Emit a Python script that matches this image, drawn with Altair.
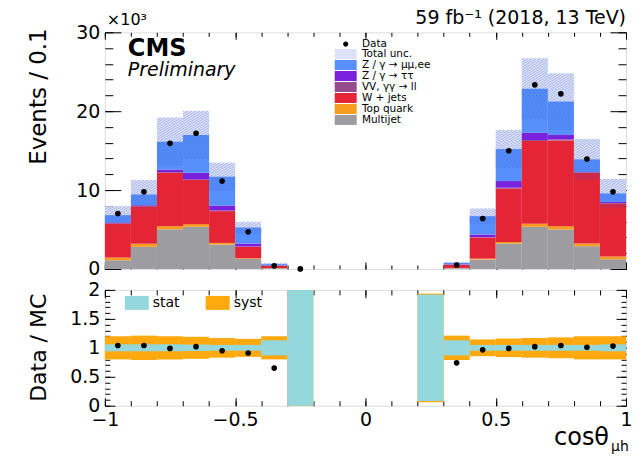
import math
import altair as alt
import pandas as pd

FONT = "DejaVu Sans"

# ---------------- data (events in units of 10^3) ----------------
bin_lo = [-1.0, -0.9, -0.8, -0.7, -0.6, -0.5, -0.4, -0.3, -0.2, -0.1,
          0.0, 0.1, 0.2, 0.3, 0.4, 0.5, 0.6, 0.7, 0.8, 0.9]
bin_width = 0.1

multijet  = [1.10, 2.80, 5.04, 5.34, 3.09, 1.27, 0.08, 0, 0, 0, 0, 0, 0, 0.10, 1.19, 3.22, 5.34, 5.00, 2.88, 1.23]
top_quark = [0.34, 0.38, 0.38, 0.34, 0.21, 0.09, 0.02, 0, 0, 0, 0, 0, 0, 0.03, 0.12, 0.21, 0.38, 0.42, 0.34, 0.34]
w_jets    = [4.32, 4.78, 6.78, 5.59, 4.03, 1.44, 0.30, 0, 0, 0, 0, 0, 0, 0.38, 2.67, 6.77, 10.50, 10.88, 8.98, 6.73]
vv_ll     = [0.04, 0.05, 0.08, 0.10, 0.08, 0.05, 0.02, 0, 0, 0, 0, 0, 0, 0.02, 0.05, 0.10, 0.12, 0.12, 0.05, 0.05]
z_tautau  = [0.10, 0.08, 0.34, 0.83, 0.63, 0.37, 0.04, 0, 0, 0, 0, 0, 0, 0.05, 0.33, 0.84, 0.94, 0.57, 0.03, 0.16]
z_mumuee  = [0.92, 1.35, 3.52, 4.79, 3.65, 2.03, 0.14, 0, 0, 0, 0, 0, 0, 0.18, 2.33, 4.06, 5.55, 4.23, 1.61, 1.06]
total_unc = [1.14, 1.83, 3.05, 3.05, 1.78, 0.72, 0.15, 0, 0, 0, 0, 0, 0, 0.12, 0.97, 2.40, 3.87, 3.58, 2.59, 1.83]
data_obs  = [7.03, 9.78, 15.92, 17.20, 11.14, 4.70, 0.39, 0.0, None, None, None, None, None,
             0.50, 6.39, 14.99, 23.34, 22.20, 13.94, 9.78]

ratio     = [1.04, 1.04, 0.99, 1.02, 0.95, 0.91, 0.65, None, None, None, None, None, None,
             0.74, 0.965, 0.99, 1.02, 1.04, 1.01, 1.03]
stat_unc  = [0.06, 0.06, 0.06, 0.055, 0.05, 0.05, 0.13, 1.0, None, None, None, None, 0.92,
             0.13, 0.05, 0.05, 0.05, 0.05, 0.05, 0.06]
syst_unc  = [0.20, 0.21, 0.20, 0.19, 0.17, 0.155, 0.20, 1.0, None, None, None, None, 0.94,
             0.21, 0.145, 0.16, 0.17, 0.18, 0.20, 0.20]

proc_names = ["Multijet", "Top quark", "W + jets", "VV, γγ → ll", "Z / γ → ττ", "Z / γ → μμ,ee"]
proc_values = [multijet, top_quark, w_jets, vv_ll, z_tautau, z_mumuee]

legend_order = ["Total unc.", "Z / γ → μμ,ee", "Z / γ → ττ", "VV, γγ → ll",
                "W + jets", "Top quark", "Multijet"]
legend_colors = ["#dde2f8", "#5790fc", "#7a21dd", "#964a8b", "#e42536", "#f89c20", "#9c9ca1"]
hatch_color = "#3050d0"

x_major = [-1, -0.5, 0, 0.5, 1]
x_minor = [round(-1 + 0.1 * i, 1) for i in range(21)]
top_y_major = [0, 10, 20, 30]
top_y_minor = list(range(0, 31, 2))
bot_y_major = [0, 0.5, 1, 1.5, 2]
bot_y_minor = [round(0.1 * i, 1) for i in range(21)]

W, H_TOP, H_BOT = 522, 237, 116
X_DOM, Y_TOP_DOM, Y_BOT_DOM = [-1, 1], [0, 30], [0, 2]

# ---------------- tables ----------------
stack_rows, band_rows, pt_rows, syst_rows, stat_rows, rpt_rows = [], [], [], [], [], []
for i, lo in enumerate(bin_lo):
    hi = round(lo + bin_width, 2)
    base = 0.0
    for name, vals in zip(proc_names, proc_values):
        v = vals[i]
        if v > 0:
            stack_rows.append(dict(lo=lo, hi=hi, y0=base, y1=base + v, proc=name))
        base += v
    if total_unc[i] > 0:
        band_rows.append(dict(lo=lo, hi=hi, y0=base - total_unc[i], y1=base + total_unc[i], proc="Total unc."))
    if data_obs[i] is not None:
        pt_rows.append(dict(xc=lo + bin_width / 2, y=data_obs[i], lab="Data"))
    if syst_unc[i] is not None:
        syst_rows.append(dict(lo=lo, hi=hi, y0=1 - syst_unc[i], y1=1 + syst_unc[i], kind="syst"))
    if stat_unc[i] is not None:
        stat_rows.append(dict(lo=lo, hi=hi, y0=1 - stat_unc[i], y1=1 + stat_unc[i], kind="stat"))
    if ratio[i] is not None:
        rpt_rows.append(dict(xc=lo + bin_width / 2, y=ratio[i]))

# hatch texture of the uncertainty band (diagonal strokes clipped to each band box)
px_x = W / (X_DOM[1] - X_DOM[0])
px_y = H_TOP / (Y_TOP_DOM[1] - Y_TOP_DOM[0])
slope, step = 0.62, 4.0
hatch_rows = []
for b in band_rows:
    u0, u1 = (b["lo"] - X_DOM[0]) * px_x, (b["hi"] - X_DOM[0]) * px_x
    v0, v1 = b["y0"] * px_y, b["y1"] * px_y
    kmin = math.floor((u0 - v1 / slope) / step)
    kmax = math.ceil((u1 - v0 / slope) / step)
    for k in range(kmin, kmax + 1):
        c = k * step
        ua = max(u0, c + v0 / slope)
        ub = min(u1, c + v1 / slope)
        if ub - ua > 0.3:
            hatch_rows.append(dict(xa=ua / px_x + X_DOM[0], xb=ub / px_x + X_DOM[0],
                                   ya=slope * (ua - c) / px_y, yb=slope * (ub - c) / px_y))

stack_df = pd.DataFrame(stack_rows)
band_df = pd.DataFrame(band_rows)
hatch_df = pd.DataFrame(hatch_rows)
pt_df = pd.DataFrame(pt_rows)
syst_df = pd.DataFrame(syst_rows)
stat_df = pd.DataFrame(stat_rows)
rpt_df = pd.DataFrame(rpt_rows)

xs = alt.Scale(domain=X_DOM, nice=False, zero=False)
ys_top = alt.Scale(domain=Y_TOP_DOM, nice=False)
ys_bot = alt.Scale(domain=Y_BOT_DOM, nice=False)


def tick_axis(orient, values, size, labels=False):
    return alt.Axis(orient=orient, values=values, tickSize=size, offset=-size,
                    domain=False, grid=False, labels=labels, title=None,
                    tickColor="black", tickWidth=1,
                    labelExpr="format(datum.value, '~g')",
                    labelFont=FONT, labelFontSize=19, labelColor="black",
                    labelPadding=5, labelFlush=False, labelOverlap=False)


RECT = "M-2.75,-1.25H2.75V1.25H-2.75Z"


def entry_legend(y, **kw):
    return alt.Legend(title=None, orient="none", legendX=236, legendY=y, padding=0,
                      symbolSize=64, labelFont=FONT, labelFontSize=10.5,
                      labelColor="black", labelOffset=11, rowPadding=0, **kw)


fill_top = alt.Scale(domain=legend_order, range=legend_colors)
fill_legend = entry_legend(16.5, symbolType=RECT, symbolStrokeWidth=0, symbolOpacity=1)

band = alt.Chart(band_df).mark_rect(strokeWidth=0).encode(
    x=alt.X("lo:Q", scale=xs, axis=tick_axis("bottom", x_minor, 4)),
    x2="hi:Q",
    y=alt.Y("y0:Q", scale=ys_top, axis=tick_axis("left", top_y_minor, 8)),
    y2="y1:Q",
    fill=alt.Fill("proc:N", scale=fill_top, legend=fill_legend),
)
stack = alt.Chart(stack_df).mark_rect(strokeWidth=0).encode(
    x=alt.X("lo:Q", scale=xs, axis=tick_axis("bottom", x_major, 7)),
    x2="hi:Q",
    y=alt.Y("y0:Q", scale=ys_top, axis=tick_axis("left", top_y_major, 16, labels=True)),
    y2="y1:Q",
    fill=alt.Fill("proc:N", scale=fill_top, legend=fill_legend),
)
hatch = alt.Chart(hatch_df).mark_rule(color=hatch_color, strokeWidth=0.9, opacity=0.35).encode(
    x=alt.X("xa:Q", scale=xs, axis=None),
    x2="xb:Q",
    y=alt.Y("ya:Q", scale=ys_top, axis=None),
    y2="yb:Q",
)
points = alt.Chart(pt_df).mark_circle(size=32, color="black", clip=False).encode(
    x=alt.X("xc:Q", scale=xs, axis=tick_axis("top", x_major, 7)),
    y=alt.Y("y:Q", scale=ys_top, axis=tick_axis("right", top_y_major, 16)),
    opacity=alt.Opacity("lab:N", scale=alt.Scale(domain=["Data"], range=[1]),
                        legend=entry_legend(
                            6.5, symbolType="M-2.75,0H2.75M-0.65,0A0.65,0.65,0,1,1,0.65,0A0.65,0.65,0,1,1,-0.65,0Z",
                            symbolFillColor="black", symbolStrokeColor="black", symbolStrokeWidth=1)),
)
points_ticks = alt.Chart(pt_df).mark_circle(opacity=0).encode(
    x=alt.X("xc:Q", scale=xs, axis=tick_axis("top", x_minor, 4)),
    y=alt.Y("y:Q", scale=ys_top, axis=tick_axis("right", top_y_minor, 8)),
)


def label(txt, x, y, size, weight="normal", style="normal", align="left",
          baseline="alphabetic", angle=0):
    return alt.Chart(pd.DataFrame({"t": [txt]})).mark_text(
        font=FONT, fontSize=size, fontWeight=weight, fontStyle=style, align=align,
        baseline=baseline, angle=angle, color="black",
    ).encode(x=alt.value(x), y=alt.value(y), text="t:N")


top = alt.layer(
    band, stack, hatch, points, points_ticks,
    label("CMS", 23, 24, 24, weight="bold"),
    label("Preliminary", 23, 44, 19, style="italic"),
    label("×10³", 2, -7, 16),
    label("59 fb⁻¹ (2018, 13 TeV)", W, -8, 19, align="right"),
    label("Events / 0.1", -66, -4, 23, align="right", baseline="middle", angle=270),
).resolve_axis(x="independent", y="independent").properties(width=W, height=H_TOP)

fill_bot = alt.Scale(domain=["stat", "syst"], range=["#94d8dd", "#ffa90e"])
bot_legend = alt.Legend(
    title=None, orient="none", legendX=22, legendY=3, padding=0, direction="horizontal",
    symbolType="M-1.2,-0.7H1.2V0.7H-1.2Z", symbolSize=400, symbolStrokeWidth=0,
    labelFont=FONT, labelFontSize=14, labelColor="black", labelOffset=6, columnPadding=26,
    symbolOpacity=1,
)

syst = alt.Chart(syst_df).mark_rect(strokeWidth=0).encode(
    x=alt.X("lo:Q", scale=xs, axis=tick_axis("bottom", x_major, 8, labels=True)),
    x2="hi:Q",
    y=alt.Y("y0:Q", scale=ys_bot, axis=tick_axis("left", bot_y_major, 10, labels=True)),
    y2="y1:Q",
    fill=alt.Fill("kind:N", scale=fill_bot, legend=bot_legend),
)
stat = alt.Chart(stat_df).mark_rect(strokeWidth=0).encode(
    x=alt.X("lo:Q", scale=xs, axis=tick_axis("bottom", x_minor, 5)),
    x2="hi:Q",
    y=alt.Y("y0:Q", scale=ys_bot, axis=tick_axis("left", bot_y_minor, 5)),
    y2="y1:Q",
    fill=alt.Fill("kind:N", scale=fill_bot, legend=bot_legend),
)
rpoints = alt.Chart(rpt_df).mark_circle(size=32, color="black", opacity=1).encode(
    x=alt.X("xc:Q", scale=xs, axis=tick_axis("top", x_major, 8)),
    y=alt.Y("y:Q", scale=ys_bot, axis=tick_axis("right", bot_y_major, 10)),
)
rpoints_ticks = alt.Chart(rpt_df).mark_circle(opacity=0).encode(
    x=alt.X("xc:Q", scale=xs, axis=tick_axis("top", x_minor, 5)),
    y=alt.Y("y:Q", scale=ys_bot, axis=tick_axis("right", bot_y_minor, 5)),
)

bottom = alt.layer(
    syst, stat, rpoints, rpoints_ticks,
    label("cosθ", 505, 155, 24, align="right"),
    label("μh", 507, 161, 14),
    label("Data / MC", -66, 58, 22, align="center", baseline="middle", angle=270),
).resolve_axis(x="independent", y="independent").properties(width=W, height=H_BOT)

chart = alt.vconcat(top, bottom, spacing=0).resolve_scale(
    fill="independent", opacity="independent"
).properties(
    padding={"left": 19, "top": 0, "right": 0, "bottom": 0}
).configure_view(stroke="black", strokeWidth=1.2).configure(background="white")

chart.save("out.html", embed_options={"renderer": "svg", "actions": False})
